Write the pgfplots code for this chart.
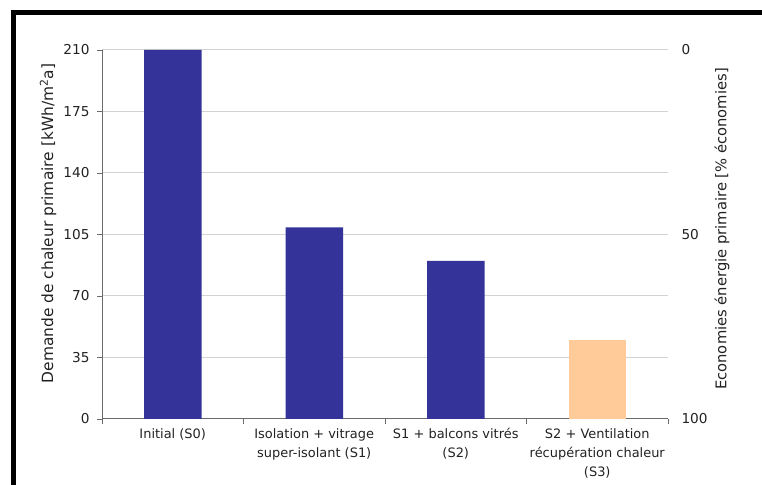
\documentclass[border=0pt]{standalone}
\usepackage{pgfplots}
\pgfplotsset{compat=1.18}
\usepackage{fontspec}
\setmainfont{DejaVu Sans}
\definecolor{barblue}{HTML}{333399}
\definecolor{barpeach}{HTML}{FFCC99}
\definecolor{gridc}{HTML}{D2D2D2}
\definecolor{axc}{HTML}{6A6A6A}
\definecolor{txt}{HTML}{222222}
\begin{document}
\begin{tikzpicture}[x=1bp,y=1bp]
\path[use as bounding box, fill=white] (0,0) rectangle (762,485);
\fill[black] (11,0) rectangle (16,475);
\fill[black] (11,470) rectangle (762,475);
\begin{axis}[
  at={(102bp,66bp)}, anchor=south west,
  scale only axis, width=566bp, height=369bp,
  xmin=-0.5, xmax=3.5, ymin=0, ymax=210,
  ytick={0,35,70,105,140,175,210},
  xtick={-0.5,0.5,1.5,2.5,3.5}, xticklabels={},
  extra x ticks={0,1,2,3},
  extra x tick labels={Initial (S0),{Isolation + vitrage\\super-isolant (S1)},{S1 + balcons vitrés\\(S2)},{S2 + Ventilation\\récupération chaleur\\(S3)}},
  extra x tick style={major tick length=0pt, xmajorgrids=false,
    xticklabel style={align=center, anchor=north, yshift=-6bp, font=\fontsize{13}{19}\selectfont, text=txt}},
  axis x line*=bottom, axis y line*=left,
  axis line style={-, draw=axc, line width=1bp},
  tick align=outside, major tick length=5bp,
  tick style={draw=axc, line width=0.8bp},
  ymajorgrids, grid style={gridc, line width=1bp},
  /pgf/number format/assume math mode=true,
  yticklabel style={font=\fontsize{13.7}{15}\selectfont, text=txt, xshift=-4bp},
  every axis y label/.style={at={(rel axis cs:-0.0954,0.53)}, rotate=90, anchor=center, font=\fontsize{15.5}{17}\selectfont, text=txt},
  ylabel={Demande de chaleur primaire [kWh/m\textsuperscript{2}a]},
  ybar, bar width=57.5bp,
  clip=false,
]
\addplot[fill=barblue, draw=none, bar shift=0pt] coordinates {(0,210) (1,109) (2,90)};
\addplot[fill=barpeach, draw=none, bar shift=0pt] coordinates {(3,45)};
\end{axis}
\begin{axis}[
  at={(102bp,66bp)}, anchor=south west,
  scale only axis, width=566bp, height=369bp,
  xmin=-0.5, xmax=3.5, ymin=0, ymax=100, y dir=reverse,
  axis y line*=right, hide x axis,
  axis line style={draw=none},
  ytick={0,50,100}, major tick length=0pt,
  /pgf/number format/assume math mode=true,
  yticklabel style={font=\fontsize{13.7}{15}\selectfont, text=txt, xshift=10bp},
  every axis y label/.style={at={(rel axis cs:1.0954,0.515)}, rotate=90, anchor=center, font=\fontsize{14.8}{17}\selectfont, text=txt},
  ylabel={Economies énergie primaire [\% économies]},
]
\end{axis}
\end{tikzpicture}
\end{document}
